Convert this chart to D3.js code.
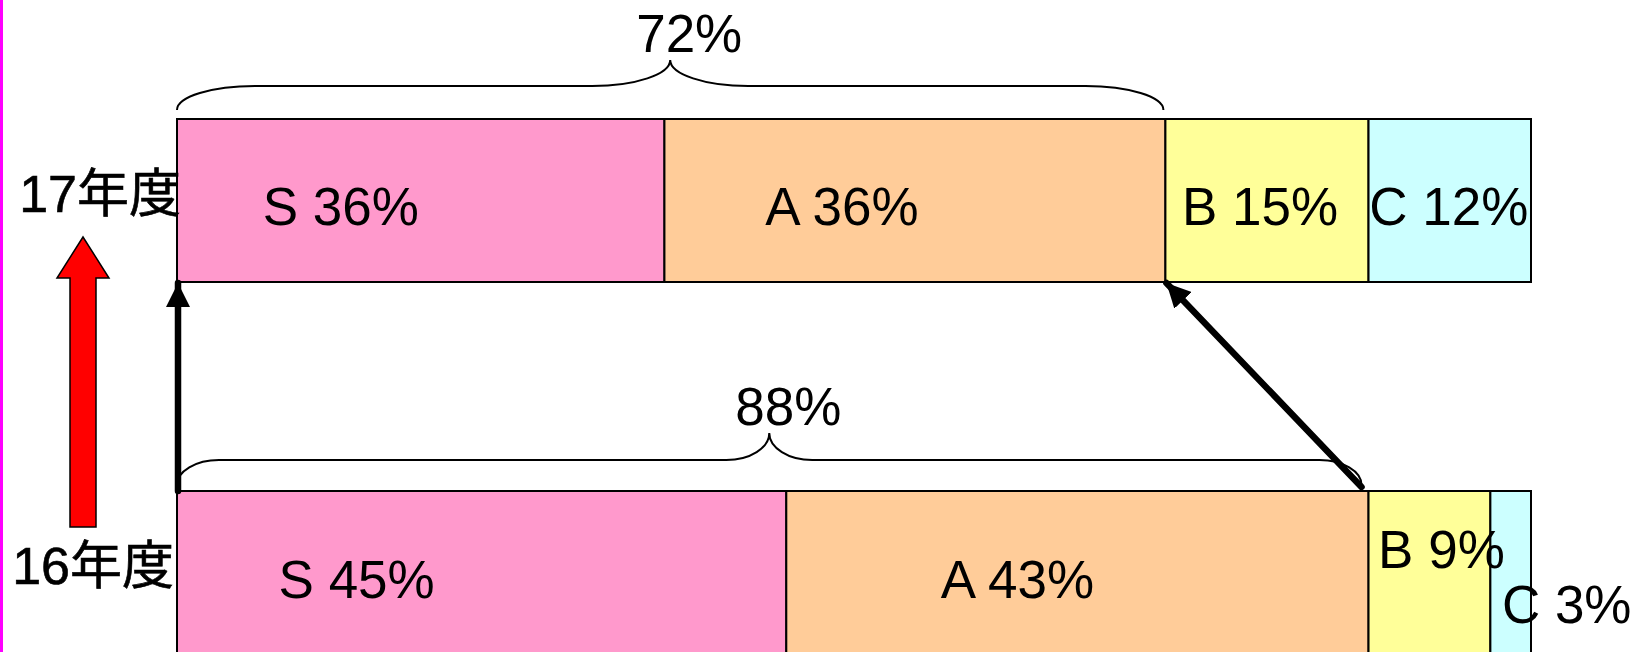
<!DOCTYPE html>
<html>
<head>
<meta charset="utf-8">
<script src="https://cdn.jsdelivr.net/npm/d3@7"></script>
<style>
  body { margin: 0; background: #fff; }
  svg text { font-family: "Liberation Sans", Arial, "Noto Sans CJK JP", sans-serif; fill: #000; }
</style>
</head>
<body>
<div id="chart"></div>
<script>
// data
const categories = ['S', 'A', 'B', 'C'];
const years = ['17年度', '16年度'];
const values17 = [36, 37, 15, 12];
const values16 = [45, 43, 9, 3];
const labels17 = ['S 36%', 'A 36%', 'B 15%', 'C 12%'];
const labels16 = ['S 45%', 'A 43%', 'B 9%', 'C 3%'];
const braceLabels = ['72%', '88%'];
const colors = ['#FF99CC', '#FFCC99', '#FFFF99', '#CCFFFF'];

// layout
const width = 1637, height = 652;
const barH = 163;
// label offsets from the segment centre / bar top (text is placed by hand in the original)
const labelDx = [[-80, -73, -7, -1], [-125, -60, 12, 56]];
const labelDy = [[106, 106, 106, 106], [107, 107, 77, 132]];

const svg = d3.select('#chart').append('svg')
  .attr('width', width)
  .attr('height', height);

// magenta edge line
svg.append('rect')
  .attr('x', 0).attr('y', 0)
  .attr('width', 3).attr('height', height)
  .attr('fill', '#FF00FF');

const x = d3.scaleLinear().domain([0, 100]).range([177, 1531]);
const y = d3.scalePoint().domain(years).range([119, 491]);

const rows = [
  { year: years[0], values: values17, labels: labels17 },
  { year: years[1], values: values16, labels: labels16 }
];
rows.forEach(r => {
  let acc = 0;
  r.segs = r.values.map((v, i) => {
    const s = { cat: categories[i], x0: acc, x1: acc + v, label: r.labels[i], i: i };
    acc += v;
    return s;
  });
});

// braces over S + A
function bracePath(x0, x1, yEnd, yFlat, yTip, rEnd, rMid) {
  const xm = (x0 + x1) / 2;
  const ryE = yEnd - yFlat, ryM = yFlat - yTip;
  return `M${x0},${yEnd}` +
    `A${rEnd},${ryE} 0 0 1 ${x0 + rEnd},${yFlat}` +
    `L${xm - rMid},${yFlat}` +
    `A${rMid},${ryM} 0 0 0 ${xm},${yTip}` +
    `A${rMid},${ryM} 0 0 0 ${xm + rMid},${yFlat}` +
    `L${x1 - rEnd},${yFlat}` +
    `A${rEnd},${ryE} 0 0 1 ${x1},${yEnd}`;
}

const braces = [
  { row: 0, trim: 2, yEnd: -9, yFlat: -33, yTip: -59, rEnd: 78, rMid: 78, textY: -67 },
  { row: 1, trim: 7, yEnd: -6, yFlat: -31, yTip: -58, rEnd: 42, rMid: 43, textY: -66 }
];
braces.forEach((b, k) => {
  const r = rows[b.row];
  const x0 = x(0), x1 = x(r.values[0] + r.values[1]) - b.trim;
  const top = y(r.year);
  svg.append('path')
    .attr('d', bracePath(x0, x1, top + b.yEnd, top + b.yFlat, top + b.yTip, b.rEnd, b.rMid))
    .attr('fill', 'none')
    .attr('stroke', '#000')
    .attr('stroke-width', 2);
  svg.append('text')
    .attr('x', (x0 + x1) / 2 + 19)
    .attr('y', top + b.textY)
    .attr('text-anchor', 'middle')
    .style('font-size', '53px')
    .text(braceLabels[k]);
});

// stacked bars
const g = svg.selectAll('g.row')
  .data(rows)
  .enter()
  .append('g')
  .attr('class', 'row');

g.selectAll('rect')
  .data(d => d.segs.map(s => Object.assign({ year: d.year }, s)))
  .enter()
  .append('rect')
  .attr('x', d => x(d.x0))
  .attr('y', d => y(d.year))
  .attr('width', d => x(d.x1) - x(d.x0))
  .attr('height', barH)
  .attr('fill', d => colors[d.i])
  .attr('stroke', '#000')
  .attr('stroke-width', 2);

g.each(function (r, ri) {
  d3.select(this).selectAll('text.seg')
    .data(r.segs)
    .enter()
    .append('text')
    .attr('class', 'seg')
    .attr('x', d => (x(d.x0) + x(d.x1)) / 2 + labelDx[ri][d.i])
    .attr('y', d => y(r.year) + labelDy[ri][d.i])
    .attr('text-anchor', 'middle')
    .style('font-size', '53px')
    .text(d => d.label);
});

// year labels
svg.selectAll('text.year')
  .data(years)
  .enter()
  .append('text')
  .attr('class', 'year')
  .attr('x', (d, i) => i === 0 ? 181 : 174)
  .attr('y', d => y(d) + 93)
  .attr('text-anchor', 'end')
  .style('font-size', '52px')
  .style('stroke', '#000')
  .style('stroke-width', 0.6)
  .text(d => d);

// red block arrow between the years
const ax = 83, aTop = 237, aHeadBase = 278, aBottom = 527;
svg.append('path')
  .attr('d', `M${ax},${aTop} L${ax + 26},${aHeadBase} L${ax + 13},${aHeadBase} L${ax + 13},${aBottom}` +
    ` L${ax - 13},${aBottom} L${ax - 13},${aHeadBase} L${ax - 26},${aHeadBase} Z`)
  .attr('fill', '#FF0000')
  .attr('stroke', '#000')
  .attr('stroke-width', 1.5);

// black arrows
const defs = svg.append('defs');
defs.append('marker')
  .attr('id', 'head')
  .attr('viewBox', '0 0 10 10')
  .attr('refX', 10).attr('refY', 5)
  .attr('markerUnits', 'userSpaceOnUse')
  .attr('markerWidth', 24).attr('markerHeight', 24)
  .attr('orient', 'auto')
  .append('path')
  .attr('d', 'M0,0 L10,5 L0,10 Z')
  .attr('fill', '#000');

function arrow(x1, y1, x2, y2) {
  svg.append('line')
    .attr('x1', x1).attr('y1', y1)
    .attr('x2', x2).attr('y2', y2)
    .attr('stroke', '#000')
    .attr('stroke-width', 6.5)
    .attr('stroke-linecap', 'round')
    .attr('marker-end', 'url(#head)');
}
const topBottom = y(years[0]) + barH;
const botTop = y(years[1]);
// S start stays at the left edge
arrow(x(0) + 1, botTop, x(0) + 1, topBottom + 1);
// end of S+A in 16 moves to end of S+A in 17
arrow(x(values16[0] + values16[1]) - 7, botTop - 4,
      x(values17[0] + values17[1]) + 1, topBottom + 1);
</script>
</body>
</html>
